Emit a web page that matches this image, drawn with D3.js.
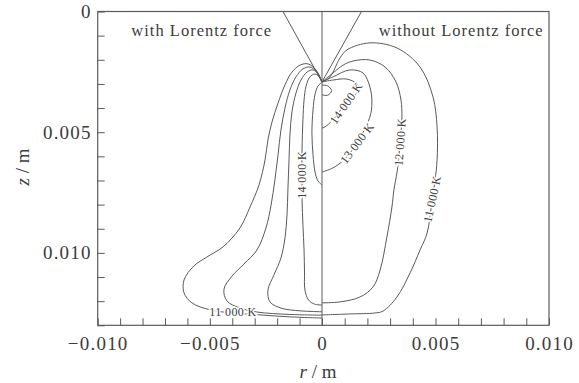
<!DOCTYPE html>
<html>
<head>
<meta charset="utf-8">
<script src="https://cdn.jsdelivr.net/npm/d3@7"></script>
<style>
  body { margin: 0; background: #fff; }
  svg { display: block; font-family: 'Liberation Serif', 'Times New Roman', serif; }
</style>
</head>
<body>
<svg id="chart" width="579" height="383"></svg>
<script>
// axis ticks (m)
const xMajor = [-0.010, -0.005, 0, 0.005, 0.010]
const yMajor = [0, 0.005, 0.010]
const xMinor = d3.range(-10, 11).map(i => i / 1000)
const yMinor = d3.range(0, 14).map(i => i / 1000)

// contour points, [r, z] in mm
const electrode = [[-1.74, 0], [0, 2.92], [1.74, 0]]
const centerLine = [[0, 0], [0, 13]]

const left11000 = [[0, 2.92], [-0.27, 2.42], [-0.62, 2.17], [-0.98, 2.22], [-1.34, 2.51], [-1.65, 3.04],
  [-1.96, 3.79], [-2.23, 4.58], [-2.41, 5.32], [-2.54, 6.15], [-2.81, 7.19], [-3.21, 8.10],
  [-3.66, 8.97], [-4.41, 9.75], [-5.13, 10.17], [-5.71, 10.54], [-6.15, 11.12], [-6.15, 11.66],
  [-5.80, 12.07], [-4.99, 12.36], [-3.97, 12.49], [-2.76, 12.57], [-1.43, 12.65], [0, 12.70]]
const left12000 = [[0, 2.92], [-0.22, 2.51], [-0.54, 2.30], [-0.85, 2.38], [-1.16, 2.71], [-1.43, 3.25],
  [-1.65, 4.00], [-1.83, 4.91], [-1.96, 5.94], [-2.10, 6.98], [-2.27, 8.02], [-2.50, 8.97],
  [-2.90, 9.88], [-3.48, 10.46], [-4.01, 10.96], [-4.37, 11.50], [-4.24, 11.99], [-3.66, 12.28],
  [-2.90, 12.45], [-1.43, 12.55], [0, 12.58]]
const left13000 = [[0, 2.92], [-0.18, 2.59], [-0.40, 2.42], [-0.67, 2.51], [-0.94, 2.84], [-1.16, 3.38],
  [-1.34, 4.16], [-1.43, 5.12], [-1.47, 6.15], [-1.52, 7.39], [-1.56, 8.43], [-1.65, 9.38],
  [-1.83, 10.21], [-2.14, 10.91], [-2.41, 11.54], [-2.32, 12.03], [-1.78, 12.30], [-0.98, 12.40], [0, 12.44]]
const left14000 = [[0, 2.92], [-0.13, 2.71], [-0.31, 2.59], [-0.54, 2.71], [-0.71, 3.09], [-0.80, 3.67],
  [-0.85, 4.49], [-0.89, 5.74], [-0.89, 6.77], [-0.89, 7.81], [-0.85, 8.84], [-0.80, 9.88],
  [-0.78, 10.79], [-0.76, 11.54], [-0.60, 11.95], [-0.34, 12.12], [0, 12.16]]
const left15000 = [[0, 2.92], [-0.18, 3.09], [-0.31, 3.42], [-0.40, 4.08], [-0.45, 5.03], [-0.40, 5.94],
  [-0.31, 6.65], [-0.18, 7.02], [0, 7.19]]

const right11000 = [[0, 2.92], [0.35, 2.71], [0.79, 1.93], [1.10, 1.59], [2.11, 1.30], [3.30, 1.51],
  [4.32, 2.30], [4.89, 3.54], [5.07, 4.78], [5.07, 6.15], [4.98, 6.98], [4.85, 7.81], [4.63, 9.18],
  [4.32, 9.88], [3.88, 10.83], [3.30, 11.83], [2.69, 12.41], [2.33, 12.49], [1.23, 12.53], [0, 12.57]]
const right12000 = [[0, 2.92], [0.48, 2.55], [0.93, 2.22], [1.37, 2.05], [2.11, 2.01], [2.78, 2.30],
  [3.26, 2.92], [3.48, 3.67], [3.52, 4.41], [3.44, 5.41], [3.35, 6.36], [3.30, 6.69], [3.17, 7.39],
  [3.08, 8.10], [2.86, 9.34], [2.56, 10.71], [2.25, 11.41], [1.67, 11.83], [0.79, 12.03], [0, 12.07]]
const right13000 = [[0, 2.92], [0.48, 2.71], [1.23, 2.42], [1.81, 2.55], [2.11, 3.13], [2.20, 3.79],
  [2.10, 4.40], [1.54, 5.45], [1.01, 6.11], [0.48, 6.48], [0, 6.65]]
const right14000 = [[0, 2.92], [0.48, 2.84], [1.10, 2.80], [1.54, 3.00], [1.62, 3.25], [1.06, 3.79],
  [0.48, 4.49], [0.13, 4.78], [0, 4.83]]
const right15000 = [[0, 3.05], [0.25, 3.08], [0.42, 3.28], [0.25, 3.47], [0, 3.45]]

// label text, r (mm), z (mm), angle
const contourLabels = [
  ['14 000 K', 1.06, 3.79, -55],
  ['13 000 K', 1.54, 5.45, -53],
  ['12 000 K', 3.44, 5.41, -86],
  ['11 000 K', 4.85, 7.77, -78],
  ['14 000 K', -0.89, 6.77, -90],
  ['11 000 K', -3.97, 12.45, 0]
]

// side title text, left r (m)
const sideTitles = [['with Lorentz force', -0.0085], ['without Lorentz force', 0.0025]]

const svg = d3.select('#chart')
const ink = '#5a5a5a'
const textInk = '#3c3c3c'

const x = d3.scaleLinear().domain([-0.01, 0, 0.01]).range([97.7, 322, 549])
const y = d3.scaleLinear().domain([0, 0.013]).range([11.5, 325.3])

const fmt = d3.format('.3f')
const label = d => Math.abs(d) < 1e-9 ? '0' : fmt(d)
const isMajor = (d, list) => list.some(m => Math.abs(m - d) < 1e-9)

// bottom axis
const gx = svg.append('g')
  .attr('transform', 'translate(0,' + y(0.013) + ')')
  .call(d3.axisBottom(x).tickValues(xMinor).tickSize(-7).tickPadding(11)
    .tickFormat(d => isMajor(d, xMajor) ? label(d) : ''))
gx.select('.domain').remove()

// left axis
const gy = svg.append('g')
  .attr('transform', 'translate(' + x(-0.01) + ',0)')
  .call(d3.axisLeft(y).tickValues(yMinor).tickSize(-7).tickPadding(6)
    .tickFormat(d => isMajor(d, yMajor) ? label(d) : ''))
gy.select('.domain').remove()

svg.selectAll('.tick line').attr('stroke', ink).attr('stroke-width', 1)
svg.selectAll('.tick text')
  .attr('fill', textInk)
  .style('font-family', "'Liberation Serif', 'Times New Roman', serif")
  .style('font-size', '19px')
  .style('letter-spacing', '1.2px')

// frame
svg.append('rect')
  .attr('x', x(-0.01)).attr('y', y(0))
  .attr('width', x(0.01) - x(-0.01)).attr('height', y(0.013) - y(0))
  .attr('fill', 'none').attr('stroke', ink).attr('stroke-width', 1.2)

const toPx = d3.line().x(d => x(d[0] / 1000)).y(d => y(d[1] / 1000))
const smooth = d3.line().x(d => x(d[0] / 1000)).y(d => y(d[1] / 1000)).curve(d3.curveCatmullRom.alpha(0.5))

const plot = svg.append('g').attr('fill', 'none').attr('stroke', ink).attr('stroke-width', 1)

plot.append('path').attr('d', toPx(electrode))
plot.append('path').attr('d', toPx(centerLine))

const contours = [left11000, left12000, left13000, left14000, left15000,
  right11000, right12000, right13000, right14000, right15000]

plot.selectAll('path.contour')
  .data(contours)
  .enter().append('path')
  .attr('class', 'contour')
  .attr('d', smooth)

svg.append('g')
  .selectAll('text')
  .data(contourLabels)
  .enter().append('text')
  .attr('transform', d => `translate(${x(d[1] / 1000)},${y(d[2] / 1000)}) rotate(${d[3]})`)
  .attr('text-anchor', 'middle')
  .attr('dy', '0.35em')
  .attr('fill', textInk)
  .attr('stroke', '#fff')
  .attr('stroke-width', 3)
  .attr('paint-order', 'stroke')
  .style('font-size', '12px')
  .style('letter-spacing', '0.4px')
  .text(d => d[0])

svg.append('g')
  .selectAll('text')
  .data(sideTitles)
  .enter().append('text')
  .attr('x', d => x(d[1]))
  .attr('y', 36)
  .attr('fill', textInk)
  .style('font-size', '16.5px')
  .style('letter-spacing', '1px')
  .text(d => d[0])

// axis titles
const xt = svg.append('text')
  .attr('x', 318).attr('y', 378)
  .attr('text-anchor', 'middle')
  .attr('fill', textInk)
  .style('font-size', '19px')
xt.append('tspan').style('font-style', 'italic').text('r')
xt.append('tspan').text(' / m')

const yt = svg.append('text')
  .attr('transform', 'translate(29,167) rotate(-90)')
  .attr('text-anchor', 'middle')
  .attr('fill', textInk)
  .style('font-size', '19px')
yt.append('tspan').style('font-style', 'italic').text('z')
yt.append('tspan').text(' / m')
</script>
</body>
</html>
